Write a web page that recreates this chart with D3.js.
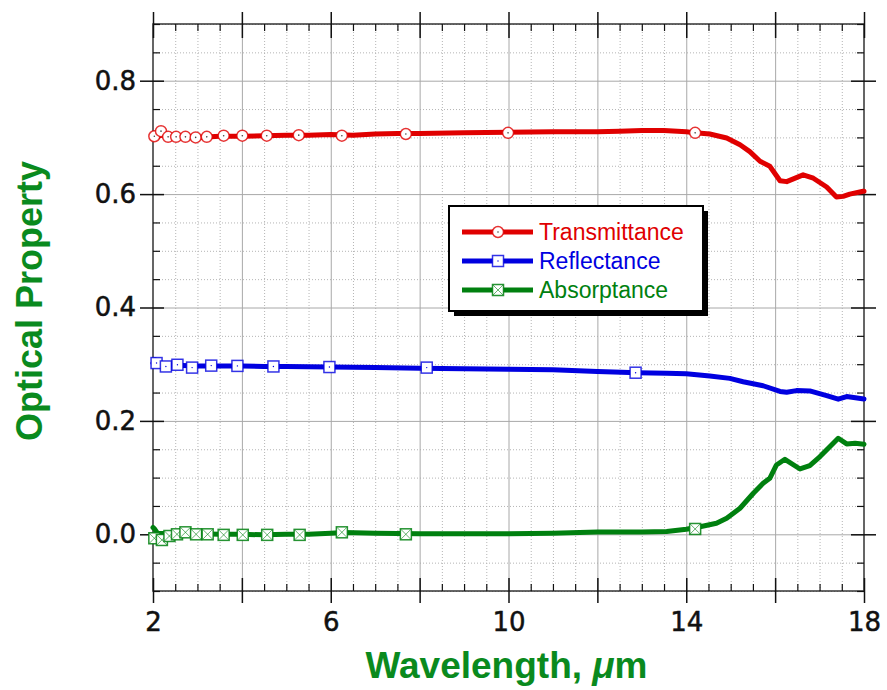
<!DOCTYPE html>
<html>
<head>
<meta charset="utf-8">
<script src="https://cdn.jsdelivr.net/npm/d3@7"></script>
<style>
  body { margin: 0; background: #fff; }
  svg { display: block; }
</style>
</head>
<body>
<svg id="chart" width="887" height="690"></svg>
<script>
// ---- data ----
const tWave = [2.0, 2.2, 2.5, 3.0, 3.5, 4.0, 4.5, 5.0, 5.5, 6.0, 6.5, 7.0, 7.5, 8.0, 9.0, 10.0, 11.0, 12.0, 12.5, 13.0, 13.5, 14.0, 14.2, 14.53, 14.91, 15.21, 15.43, 15.66, 15.88, 16.11, 16.26, 16.63, 16.86, 17.16, 17.38, 17.53, 17.68, 17.98, 18.0];
const tValue = [0.699, 0.704, 0.701, 0.700, 0.702, 0.702, 0.703, 0.704, 0.704, 0.705, 0.704, 0.706, 0.707, 0.707, 0.708, 0.709, 0.710, 0.710, 0.711, 0.712, 0.712, 0.710, 0.708, 0.706, 0.699, 0.687, 0.675, 0.658, 0.649, 0.6235, 0.622, 0.634, 0.628, 0.6125, 0.595, 0.596, 0.600, 0.605, 0.605];

const rWave = [2.0, 2.05, 2.1, 2.5, 3.0, 3.5, 4.0, 4.5, 5.0, 6.0, 7.0, 8.0, 9.0, 10.0, 11.0, 12.0, 12.9, 13.56, 14.0, 14.53, 14.98, 15.28, 15.73, 16.11, 16.26, 16.48, 16.78, 17.16, 17.42, 17.61, 18.0];
const rValue = [0.302, 0.308, 0.300, 0.298, 0.297, 0.297, 0.297, 0.296, 0.296, 0.295, 0.294, 0.293, 0.292, 0.291, 0.290, 0.287, 0.285, 0.284, 0.283, 0.279, 0.275, 0.269, 0.262, 0.252, 0.2506, 0.2534, 0.2529, 0.2446, 0.2383, 0.2429, 0.2388];

const aWave = [2.0, 2.03, 2.1, 2.5, 3.0, 3.5, 4.0, 4.5, 5.0, 5.5, 6.0, 6.3, 7.0, 8.0, 9.0, 10.0, 11.0, 12.0, 13.0, 13.56, 14.0, 14.31, 14.68, 14.91, 15.21, 15.51, 15.73, 15.88, 16.03, 16.22, 16.56, 16.78, 17.01, 17.23, 17.42, 17.61, 17.8, 18.0];
const aValue = [0.012, 0.010, 0.002, 0.001, 0.001, 0.0, 0.0, -0.001, 0.0, 0.0, 0.002, 0.003, 0.002, 0.001, 0.001, 0.001, 0.002, 0.004, 0.004, 0.005, 0.0088, 0.0134, 0.0194, 0.0282, 0.0459, 0.0724, 0.090, 0.0988, 0.1223, 0.1323, 0.1152, 0.1211, 0.137, 0.1546, 0.1694, 0.1594, 0.1606, 0.1588];

// marker positions
const tMarkX = [2.03, 2.18, 2.34, 2.52, 2.73, 2.96, 3.21, 3.59, 4.01, 4.56, 5.28, 6.25, 7.69, 9.99, 14.2];
const tMarkY = [0.702, 0.711, 0.701, 0.701, 0.701, 0.700, 0.701, 0.703, 0.703, 0.703, 0.704, 0.703, 0.706, 0.708, 0.708];
const rMarkX = [2.08, 2.29, 2.55, 2.88, 3.31, 3.90, 4.71, 5.97, 8.16, 12.86];
const rMarkY = [0.302, 0.296, 0.299, 0.294, 0.2975, 0.297, 0.296, 0.295, 0.294, 0.285];
const aMarkX = [2.03, 2.2, 2.37, 2.54, 2.73, 2.97, 3.23, 3.59, 4.02, 4.57, 5.3, 6.25, 7.69, 14.2];
const aMarkY = [-0.007, -0.010, -0.003, 0.0, 0.0035, 0.0, 0.0, -0.001, -0.001, -0.001, -0.001, 0.0035, 0.0, 0.0094];

const seriesNames = ['Transmittance', 'Reflectance', 'Absorptance'];
const seriesColors = ['#e00000', '#0000e0', '#00800f'];
const xTickLabels = [2, 6, 10, 14, 18];
const yTickLabels = [0.0, 0.2, 0.4, 0.6, 0.8];

// ---- setup ----
const svg = d3.select('#chart');
const mLeft = 153, mRight = 864, mTop = 24, mBottom = 591;
const x = d3.scaleLinear().domain([2, 18]).range([mLeft, mRight]);
const y = d3.scaleLinear().domain([-0.1, 0.9]).range([mBottom, mTop]);
const plotW = mRight - mLeft, plotH = mBottom - mTop;

const xMajor = d3.range(2, 18.01, 2);
const xMinor = d3.range(2.5, 18, 0.5).filter(v => Math.abs(v % 2) > 0.01);
const yMajor = yTickLabels;
const yMinor = d3.range(0, 21).map(i => +(-0.1 + i * 0.05).toFixed(2)).filter(v => !yMajor.some(m => Math.abs(m - v) < 1e-6));

const tickFont = '"DejaVu Sans", sans-serif';

function styleAxis(g, color, width, dash) {
  g.select('.domain').remove();
  g.selectAll('.tick line').attr('stroke', color).attr('stroke-width', width);
  if (dash) g.selectAll('.tick line').attr('stroke-dasharray', dash);
}
function styleLabels(g) {
  g.selectAll('text')
    .attr('font-family', tickFont).attr('font-size', 26)
    .attr('fill', '#111').attr('stroke', '#111').attr('stroke-width', 0.5);
}

// grid
svg.append('g')
  .attr('transform', `translate(0,${mBottom})`)
  .call(d3.axisBottom(x).tickValues(xMinor).tickSize(-plotH).tickFormat(''))
  .call(g => styleAxis(g, '#b4b4b4', 1, '1,2'));
svg.append('g')
  .attr('transform', `translate(${mLeft},0)`)
  .call(d3.axisLeft(y).tickValues(yMinor).tickSize(-plotW).tickFormat(''))
  .call(g => styleAxis(g, '#b4b4b4', 1, '1,2'));
svg.append('g')
  .attr('transform', `translate(0,${mBottom})`)
  .call(d3.axisBottom(x).tickValues(xMajor.slice(1, -1)).tickSize(-plotH).tickFormat(''))
  .call(g => styleAxis(g, '#a8a8a8', 1));
svg.append('g')
  .attr('transform', `translate(${mLeft},0)`)
  .call(d3.axisLeft(y).tickValues(yMajor).tickSize(-plotW).tickFormat(''))
  .call(g => styleAxis(g, '#a8a8a8', 1));

// frame
svg.append('rect')
  .attr('x', mLeft).attr('y', mTop)
  .attr('width', plotW).attr('height', plotH)
  .attr('fill', 'none').attr('stroke', '#333').attr('stroke-width', 1.5);

// ticks: bottom
svg.append('g')
  .attr('transform', `translate(0,${mBottom})`)
  .call(d3.axisBottom(x).tickValues(xMajor).tickSize(12).tickPadding(10)
    .tickFormat(d => xTickLabels.includes(d) ? d : ''))
  .call(g => styleAxis(g, '#111', 1.5))
  .call(styleLabels);
svg.append('g')
  .attr('transform', `translate(0,${mBottom})`)
  .call(d3.axisTop(x).tickValues(xMajor).tickSize(13).tickFormat(''))
  .call(g => styleAxis(g, '#111', 1.5));
svg.append('g')
  .attr('transform', `translate(0,${mBottom})`)
  .call(d3.axisTop(x).tickValues(xMinor).tickSize(7).tickFormat(''))
  .call(g => styleAxis(g, '#111', 1.2));
// top
svg.append('g')
  .attr('transform', `translate(0,${mTop})`)
  .call(d3.axisTop(x).tickValues(xMajor).tickSize(12).tickFormat(''))
  .call(g => styleAxis(g, '#111', 1.5));
svg.append('g')
  .attr('transform', `translate(0,${mTop})`)
  .call(d3.axisBottom(x).tickValues(xMajor).tickSize(14).tickFormat(''))
  .call(g => styleAxis(g, '#111', 1.5));
svg.append('g')
  .attr('transform', `translate(0,${mTop})`)
  .call(d3.axisBottom(x).tickValues(xMinor).tickSize(7).tickFormat(''))
  .call(g => styleAxis(g, '#111', 1.2));
// left
svg.append('g')
  .attr('transform', `translate(${mLeft},0)`)
  .call(d3.axisLeft(y).tickValues(yMajor).tickSize(13).tickPadding(4).tickFormat(d3.format('.1f')))
  .call(g => styleAxis(g, '#111', 1.5))
  .call(styleLabels);
svg.append('g')
  .attr('transform', `translate(${mLeft},0)`)
  .call(d3.axisRight(y).tickValues(yMajor).tickSize(11).tickFormat(''))
  .call(g => styleAxis(g, '#111', 1.5));
svg.append('g')
  .attr('transform', `translate(${mLeft},0)`)
  .call(d3.axisRight(y).tickValues(yMinor).tickSize(7).tickFormat(''))
  .call(g => styleAxis(g, '#111', 1.2));
// right
svg.append('g')
  .attr('transform', `translate(${mRight},0)`)
  .call(d3.axisRight(y).tickValues(yMajor).tickSize(12).tickFormat(''))
  .call(g => styleAxis(g, '#111', 1.5));
svg.append('g')
  .attr('transform', `translate(${mRight},0)`)
  .call(d3.axisLeft(y).tickValues(yMajor).tickSize(13).tickFormat(''))
  .call(g => styleAxis(g, '#111', 1.5));
svg.append('g')
  .attr('transform', `translate(${mRight},0)`)
  .call(d3.axisLeft(y).tickValues(yMinor).tickSize(7).tickFormat(''))
  .call(g => styleAxis(g, '#111', 1.2));

// ---- series lines ----
const line = d3.line().x(d => x(d[0])).y(d => y(d[1]));
const lineData = [
  d3.zip(tWave, tValue),
  d3.zip(rWave, rValue),
  d3.zip(aWave, aValue)
];
lineData.forEach((pts, i) => {
  svg.append('path')
    .datum(pts)
    .attr('d', line)
    .attr('fill', 'none')
    .attr('stroke', seriesColors[i])
    .attr('stroke-width', 5)
    .attr('stroke-linejoin', 'round')
    .attr('stroke-linecap', 'round');
});

// ---- markers ----
function circleMark(g, color) {
  g.append('circle').attr('r', 5.5).attr('fill', '#fff')
    .attr('stroke', color).attr('stroke-width', 1.5).attr('stroke-opacity', 0.8);
  g.append('circle').attr('r', 0.8).attr('fill', '#444');
}
function squareMark(g, color) {
  g.append('rect').attr('x', -5.5).attr('y', -5.5).attr('width', 11).attr('height', 11)
    .attr('fill', '#fff').attr('stroke', color).attr('stroke-width', 1.5).attr('stroke-opacity', 0.8);
  g.append('circle').attr('r', 0.7).attr('fill', color);
}
function crossMark(g, color) {
  g.append('rect').attr('x', -5.5).attr('y', -5.5).attr('width', 11).attr('height', 11)
    .attr('fill', '#fff').attr('stroke', color).attr('stroke-width', 1.5).attr('stroke-opacity', 0.85);
  g.append('path').attr('d', 'M-5,-5L5,5M5,-5L-5,5')
    .attr('stroke', color).attr('stroke-width', 1).attr('stroke-opacity', 0.6);
}
const markFns = [circleMark, squareMark, crossMark];
const markData = [d3.zip(tMarkX, tMarkY), d3.zip(rMarkX, rMarkY), d3.zip(aMarkX, aMarkY)];
markData.forEach((pts, i) => {
  svg.append('g')
    .selectAll('g')
    .data(pts)
    .join('g')
    .attr('transform', d => `translate(${x(d[0])},${y(d[1])})`)
    .each(function () { markFns[i](d3.select(this), seriesColors[i]); });
});

// ---- legend ----
const legend = svg.append('g').attr('transform', 'translate(449,206)');
legend.append('rect').attr('x', 5).attr('y', 5).attr('width', 254).attr('height', 105).attr('fill', '#000');
legend.append('rect').attr('width', 254).attr('height', 105)
  .attr('fill', '#fff').attr('stroke', '#000').attr('stroke-width', 2);
seriesNames.forEach((name, i) => {
  const ly = 26 + i * 29;
  legend.append('line')
    .attr('x1', 13).attr('x2', 84).attr('y1', ly).attr('y2', ly)
    .attr('stroke', seriesColors[i]).attr('stroke-width', 5);
  markFns[i](legend.append('g').attr('transform', `translate(49,${ly})`), seriesColors[i]);
  legend.append('text')
    .attr('x', 90).attr('y', ly).attr('dy', '0.36em')
    .attr('font-family', '"Liberation Sans", Arial, sans-serif')
    .attr('font-size', 23)
    .attr('fill', seriesColors[i])
    .text(name);
});

// ---- axis titles ----
const titleColor = '#0a8a1e';
const xTitle = svg.append('text')
  .attr('x', (mLeft + mRight) / 2 - 2).attr('y', 678)
  .attr('text-anchor', 'middle')
  .attr('font-family', '"Liberation Sans", Arial, sans-serif')
  .attr('font-weight', 'bold').attr('font-size', 37)
  .attr('fill', titleColor);
xTitle.append('tspan').text('Wavelength, ');
xTitle.append('tspan').attr('font-style', 'italic').text('μ');
xTitle.append('tspan').text('m');

svg.append('text')
  .attr('transform', 'translate(42,301) rotate(-90)')
  .attr('text-anchor', 'middle')
  .attr('font-family', '"Liberation Sans", Arial, sans-serif')
  .attr('font-weight', 'bold').attr('font-size', 36)
  .attr('fill', titleColor)
  .text('Optical Property');
</script>
</body>
</html>
